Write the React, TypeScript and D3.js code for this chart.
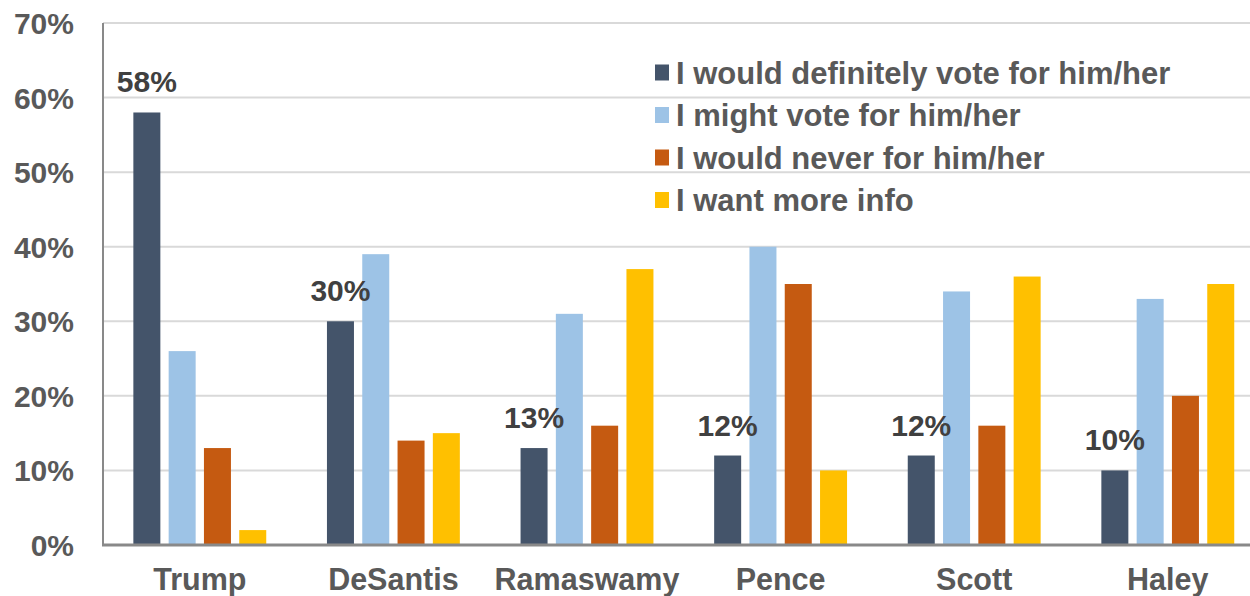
import React from "react";
import * as d3 from "d3";

const categories = ["Trump", "DeSantis", "Ramaswamy", "Pence", "Scott", "Haley"];
const seriesNames = [
  "I would definitely vote for him/her",
  "I might vote for him/her",
  "I would never for him/her",
  "I want more info",
];
const definitely = [58, 30, 13, 12, 12, 10];
const might = [26, 39, 31, 40, 34, 33];
const never = [13, 14, 16, 35, 16, 20];
const moreInfo = [2, 15, 37, 10, 36, 35];
const yTicks = [0, 10, 20, 30, 40, 50, 60, 70];
const colors = ["#44546A", "#9DC3E6", "#C55A11", "#FFC000"];

const W = 1250;
const H = 596;

export default function App() {
  const seriesValues = [definitely, might, never, moreInfo];
  const y = d3.scaleLinear().domain([0, 70]).range([545, 23]);
  const x0 = d3.scaleBand<string>().domain(categories).range([103, 103 + 6 * 193.6]).padding(0);
  const x1 = d3
    .scaleBand<string>()
    .domain(seriesNames)
    .range([0, x0.bandwidth()])
    .paddingInner(0.235)
    .paddingOuter(0.86);
  const font = "'Liberation Sans', Arial, sans-serif";

  return (
    <svg
      width={W}
      height={H}
      style={{ position: "absolute", left: 0, top: 0, background: "#fff" }}
      fontFamily={font}
    >
      {/* gridlines */}
      {yTicks.slice(1).map((t) => (
        <line key={"g" + t} x1={103} x2={W} y1={y(t)} y2={y(t)} stroke="#D9D9D9" strokeWidth={2} />
      ))}
      {/* y tick labels */}
      {yTicks.map((t) => (
        <text
          key={"t" + t}
          x={74}
          y={y(t) + 11}
          textAnchor="end"
          fontSize={30}
          fontWeight="bold"
          fill="#595959"
        >
          {t}%
        </text>
      ))}
      {/* bars */}
      {categories.map((c, ci) => (
        <g key={c} transform={`translate(${x0(c)},0)`}>
          {seriesNames.map((s, si) => {
            const v = seriesValues[si][ci];
            return (
              <rect
                key={s}
                x={x1(s)}
                y={y(v)}
                width={x1.bandwidth()}
                height={y(0) - y(v)}
                fill={colors[si]}
              />
            );
          })}
          <text
            x={(x1(seriesNames[0]) as number) + x1.bandwidth() / 2}
            y={y(definitely[ci]) - 20}
            textAnchor="middle"
            fontSize={30}
            fontWeight="bold"
            fill="#404040"
          >
            {definitely[ci]}%
          </text>
        </g>
      ))}
      {/* axes */}
      <line x1={103} x2={103} y1={y(70)} y2={y(0)} stroke="#898989" strokeWidth={2} />
      <line x1={102} x2={W} y1={y(0)} y2={y(0)} stroke="#898989" strokeWidth={3} />
      {/* category labels */}
      {categories.map((c) => (
        <text
          key={"c" + c}
          x={(x0(c) as number) + x0.bandwidth() / 2}
          y={590}
          textAnchor="middle"
          fontSize={30.5}
          fontWeight="bold"
          fill="#595959"
        >
          {c}
        </text>
      ))}
      {/* legend */}
      {seriesNames.map((s, i) => {
        const cy = 72.5 + i * 42.5;
        return (
          <g key={"l" + s}>
            <rect x={655} y={cy - 8} width={14} height={16} fill={colors[i]} />
            <text x={676} y={cy + 11} fontSize={31} fontWeight="bold" fill="#595959">
              {s}
            </text>
          </g>
        );
      })}
    </svg>
  );
}
